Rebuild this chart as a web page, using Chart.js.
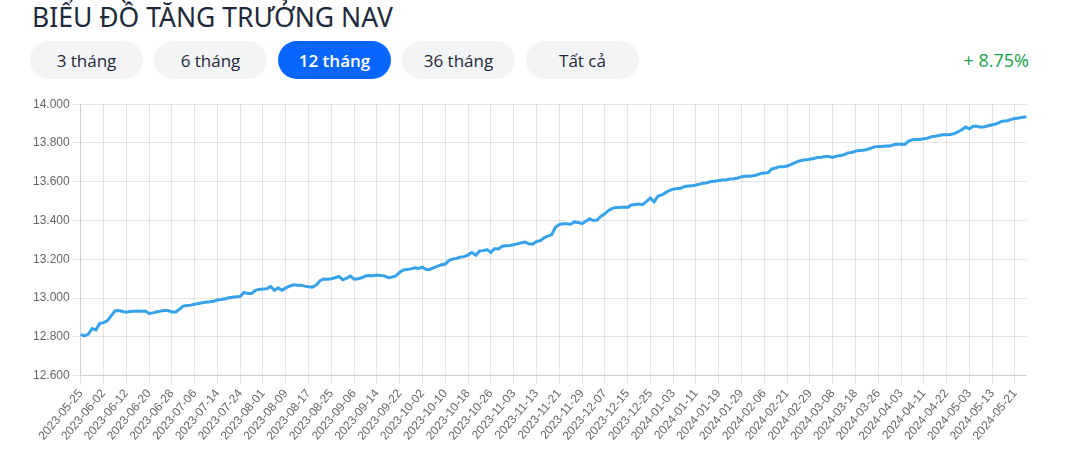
<!DOCTYPE html>
<html lang="vi">
<head>
<meta charset="utf-8">
<title>Biểu đồ tăng trưởng NAV</title>
<script src="https://cdn.jsdelivr.net/npm/chart.js@4.4.0/dist/chart.umd.min.js"></script>
<style>
  html, body { margin: 0; padding: 0; background: #fff; }
  body { width: 1090px; height: 453px; position: relative; overflow: hidden; font-family: 'Open Sans', 'Noto Sans', sans-serif; }
  .title { position: absolute; left: 32px; top: 3px; margin: 0; font-family: 'Noto Sans', sans-serif; font-size: 26.5px; line-height: 28px; font-weight: 400; color: #1e293b; white-space: nowrap; }
  .periods { position: absolute; left: 30px; top: 41px; display: flex; gap: 11px; }
  .periods button { width: 113px; height: 38px; border: 0; border-radius: 19px; background: #f3f4f6; color: #1e293b; font-family: inherit; font-size: 17px; font-weight: 500; padding: 0; cursor: pointer; }
  .periods button.active { background: #0866ff; color: #fff; font-weight: 600; }
  .growth { position: absolute; right: 61px; top: 48px; font-size: 18px; line-height: 24px; color: #16a34a; font-weight: 500; }
  .chart-box { position: absolute; left: 30px; top: 94px; width: 999px; height: 352px; }
</style>
</head>
<body>
<h1 class="title">BIỂU ĐỒ TĂNG TRƯỞNG NAV</h1>
<div class="periods">
  <button>3 tháng</button>
  <button>6 tháng</button>
  <button class="active">12 tháng</button>
  <button>36 tháng</button>
  <button>Tất cả</button>
</div>
<div class="growth">+ 8.75%</div>
<div class="chart-box"><canvas id="navChart"></canvas></div>

<script>
// trading days, 2023-05-25 .. 2024-05-24
const navDates = [
  '2023-05-25','2023-05-26','2023-05-29','2023-05-30','2023-05-31',
  '2023-06-01','2023-06-02','2023-06-05','2023-06-06','2023-06-07','2023-06-08','2023-06-09','2023-06-12','2023-06-13','2023-06-14',
  '2023-06-15','2023-06-16','2023-06-19','2023-06-20','2023-06-21','2023-06-22','2023-06-23','2023-06-26','2023-06-27','2023-06-28',
  '2023-06-29','2023-06-30',
  '2023-07-03','2023-07-04','2023-07-05','2023-07-06','2023-07-07','2023-07-10','2023-07-11','2023-07-12','2023-07-13','2023-07-14',
  '2023-07-17','2023-07-18','2023-07-19','2023-07-20','2023-07-21','2023-07-24','2023-07-25','2023-07-26','2023-07-27','2023-07-28',
  '2023-07-31',
  '2023-08-01','2023-08-02','2023-08-03','2023-08-04','2023-08-07','2023-08-08','2023-08-09','2023-08-10','2023-08-11','2023-08-14',
  '2023-08-15','2023-08-16','2023-08-17','2023-08-18','2023-08-21','2023-08-22','2023-08-23','2023-08-24','2023-08-25','2023-08-28',
  '2023-08-29','2023-08-30','2023-08-31',
  '2023-09-05','2023-09-06','2023-09-07','2023-09-08','2023-09-11','2023-09-12','2023-09-13','2023-09-14','2023-09-15','2023-09-18',
  '2023-09-19','2023-09-20','2023-09-21','2023-09-22','2023-09-25','2023-09-26','2023-09-27','2023-09-28','2023-09-29',
  '2023-10-02','2023-10-03','2023-10-04','2023-10-05','2023-10-06','2023-10-09','2023-10-10','2023-10-11','2023-10-12','2023-10-13',
  '2023-10-16','2023-10-17','2023-10-18','2023-10-19','2023-10-20','2023-10-23','2023-10-24','2023-10-25','2023-10-26','2023-10-27',
  '2023-10-30','2023-10-31',
  '2023-11-01','2023-11-02','2023-11-03','2023-11-06','2023-11-07','2023-11-08','2023-11-09','2023-11-10','2023-11-13','2023-11-14',
  '2023-11-15','2023-11-16','2023-11-17','2023-11-20','2023-11-21','2023-11-22','2023-11-23','2023-11-24','2023-11-27','2023-11-28',
  '2023-11-29','2023-11-30',
  '2023-12-01','2023-12-04','2023-12-05','2023-12-06','2023-12-07','2023-12-08','2023-12-11','2023-12-12','2023-12-13','2023-12-14',
  '2023-12-15','2023-12-18','2023-12-19','2023-12-20','2023-12-21','2023-12-22','2023-12-25','2023-12-26','2023-12-27','2023-12-28',
  '2023-12-29',
  '2024-01-02','2024-01-03','2024-01-04','2024-01-05','2024-01-08','2024-01-09','2024-01-10','2024-01-11','2024-01-12','2024-01-15',
  '2024-01-16','2024-01-17','2024-01-18','2024-01-19','2024-01-22','2024-01-23','2024-01-24','2024-01-25','2024-01-26','2024-01-29',
  '2024-01-30','2024-01-31',
  '2024-02-01','2024-02-02','2024-02-05','2024-02-06','2024-02-07','2024-02-15','2024-02-16','2024-02-19','2024-02-20','2024-02-21',
  '2024-02-22','2024-02-23','2024-02-26','2024-02-27','2024-02-28','2024-02-29',
  '2024-03-01','2024-03-04','2024-03-05','2024-03-06','2024-03-07','2024-03-08','2024-03-11','2024-03-12','2024-03-13','2024-03-14',
  '2024-03-15','2024-03-18','2024-03-19','2024-03-20','2024-03-21','2024-03-22','2024-03-25','2024-03-26','2024-03-27','2024-03-28',
  '2024-03-29',
  '2024-04-01','2024-04-02','2024-04-03','2024-04-04','2024-04-05','2024-04-08','2024-04-09','2024-04-10','2024-04-11','2024-04-12',
  '2024-04-15','2024-04-16','2024-04-17','2024-04-19','2024-04-22','2024-04-23','2024-04-24','2024-04-25','2024-04-26',
  '2024-05-02','2024-05-03','2024-05-06','2024-05-07','2024-05-08','2024-05-09','2024-05-10','2024-05-13','2024-05-14','2024-05-15',
  '2024-05-16','2024-05-17','2024-05-20','2024-05-21','2024-05-22','2024-05-23','2024-05-24'
];

// NAV per unit (thousand VND), one per trading day
const navValues = [
  12.812, 12.805, 12.815, 12.843, 12.836, 12.869, 12.874, 12.883, 12.909, 12.934,
  12.936, 12.931, 12.928, 12.931, 12.933, 12.934, 12.933, 12.934, 12.921, 12.924,
  12.929, 12.933, 12.936, 12.936, 12.928, 12.928, 12.943, 12.959, 12.962, 12.964,
  12.969, 12.972, 12.976, 12.979, 12.981, 12.984, 12.990, 12.993, 12.997, 13.002,
  13.005, 13.007, 13.009, 13.029, 13.024, 13.024, 13.040, 13.045, 13.047, 13.048,
  13.060, 13.040, 13.053, 13.041, 13.053, 13.062, 13.069, 13.067, 13.067, 13.062,
  13.059, 13.057, 13.067, 13.090, 13.098, 13.097, 13.100, 13.105, 13.112, 13.095,
  13.102, 13.114, 13.098, 13.100, 13.105, 13.114, 13.117, 13.115, 13.119, 13.117,
  13.115, 13.105, 13.109, 13.115, 13.134, 13.145, 13.148, 13.151, 13.157, 13.153,
  13.160, 13.148, 13.148, 13.157, 13.165, 13.172, 13.176, 13.195, 13.202, 13.205,
  13.212, 13.214, 13.223, 13.235, 13.221, 13.243, 13.245, 13.250, 13.235, 13.256,
  13.254, 13.268, 13.270, 13.271, 13.275, 13.280, 13.285, 13.289, 13.280, 13.278,
  13.292, 13.296, 13.311, 13.320, 13.327, 13.365, 13.379, 13.383, 13.384, 13.381,
  13.393, 13.390, 13.384, 13.397, 13.409, 13.400, 13.403, 13.423, 13.435, 13.452,
  13.463, 13.468, 13.468, 13.470, 13.468, 13.480, 13.483, 13.485, 13.482, 13.499,
  13.516, 13.496, 13.527, 13.532, 13.544, 13.555, 13.562, 13.565, 13.567, 13.576,
  13.578, 13.579, 13.583, 13.588, 13.593, 13.595, 13.602, 13.603, 13.607, 13.609,
  13.610, 13.614, 13.616, 13.619, 13.626, 13.628, 13.629, 13.631, 13.635, 13.642,
  13.645, 13.647, 13.666, 13.671, 13.678, 13.678, 13.681, 13.688, 13.697, 13.706,
  13.711, 13.713, 13.716, 13.720, 13.725, 13.726, 13.730, 13.730, 13.725, 13.732,
  13.735, 13.739, 13.749, 13.751, 13.758, 13.761, 13.763, 13.766, 13.773, 13.780,
  13.782, 13.782, 13.784, 13.784, 13.791, 13.794, 13.794, 13.792, 13.810, 13.817,
  13.818, 13.818, 13.822, 13.825, 13.832, 13.835, 13.839, 13.842, 13.842, 13.844,
  13.848, 13.858, 13.868, 13.882, 13.873, 13.886, 13.886, 13.881, 13.884, 13.889,
  13.894, 13.898, 13.908, 13.913, 13.915, 13.922, 13.926, 13.929, 13.933, 13.934
];

// y axis
const yMin = 12.6;
const yMax = 14.0;
const yStep = 0.2;
// a date label on every 6th trading day
const labelEvery = 6;

function createChart() {
  const ctx = document.getElementById('navChart').getContext('2d');
  new Chart(ctx, {
    type: 'line',
    data: {
      labels: navDates,
      datasets: [{
        label: 'NAV',
        data: navValues,
        borderColor: '#36a2eb',
        backgroundColor: '#36a2eb',
        borderWidth: 3,
        pointRadius: 0,
        pointHoverRadius: 3,
        tension: 0,
        fill: false
      }]
    },
    options: {
      responsive: true,
      maintainAspectRatio: false,
      animation: false,
      plugins: { legend: { display: false }, tooltip: { enabled: true } },
      scales: {
        x: {
          ticks: {
            autoSkip: false,
            maxRotation: 50,
            minRotation: 50,
            callback: function (val, i) {
              return i % labelEvery === 0 ? this.getLabelForValue(val) : null;
            }
          }
        },
        y: {
          min: yMin,
          max: yMax,
          ticks: {
            stepSize: yStep,
            callback: (v) => v.toFixed(3)
          }
        }
      }
    }
  });
}

window.addEventListener('DOMContentLoaded', createChart);
</script>
</body>
</html>
